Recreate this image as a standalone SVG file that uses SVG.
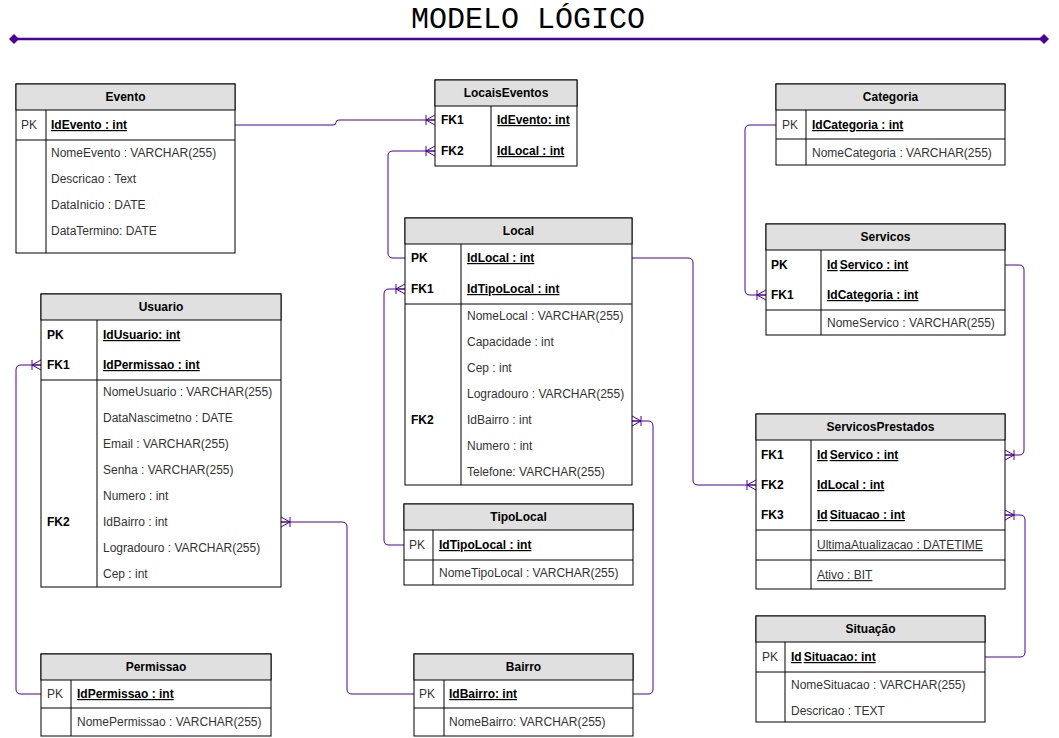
<svg xmlns="http://www.w3.org/2000/svg" width="1059" height="738" viewBox="0 0 1059 738">
<style>
.box{fill:#fff;stroke:#000;stroke-width:1}
.hd{fill:#e0e0e0;stroke:#000;stroke-width:1}
.ln{stroke:#000;stroke-width:1;fill:none}
text{font-family:"Liberation Sans",Arial,sans-serif;font-size:12px;fill:#333}
.h{font-weight:bold;fill:#000;text-anchor:middle}
.k{font-weight:bold;fill:#000}
.u{text-decoration:underline}
.c{fill:none;stroke:#4C0099;stroke-width:1}
.title{font-family:"Liberation Mono","DejaVu Sans Mono",monospace;font-size:30px;fill:#000;text-anchor:middle}
</style>
<defs>
<marker id="many" markerUnits="userSpaceOnUse" viewBox="-11 -7 12 14" refX="0" refY="0" markerWidth="12" markerHeight="14" orient="auto" overflow="visible">
<path d="M-9,-5 V5 M-9,0 L0,-5 M-9,0 L0,5 M-9,0 L0,0" fill="none" stroke="#4C0099" stroke-width="1"/>
</marker>
</defs>
<rect width="1059" height="738" fill="#fff"/>
<g id="title">
<text class="title" x="528" y="28" textLength="234" lengthAdjust="spacingAndGlyphs">MODELO LÓGICO</text>
<line x1="14" y1="39" x2="1044" y2="39" stroke="#4C0099" stroke-width="2.5"/>
<polygon points="9,39 14,34 19,39 14,44" fill="#4C0099"/>
<polygon points="1039,39 1044,34 1049,39 1044,44" fill="#4C0099"/>
</g>
<g id="connectors">
<path class="c" d="M235,125 H333 Q336,125 336,122.5 Q336,120 339,120 H435" marker-end="url(#many)"/>
<path class="c" d="M405,258 H393 Q388,258 388,253 V156 Q388,151 393,151 H435" marker-end="url(#many)"/>
<path class="c" d="M404,545 H389 Q384,545 384,540 V294 Q384,289 389,289 H405" marker-end="url(#many)"/>
<path class="c" d="M633,694 H648 Q653,694 653,689 V426 Q653,421 648,421 H632" marker-end="url(#many)"/>
<path class="c" d="M632,258 H688 Q693,258 693,263 V480 Q693,485 698,485 H756" marker-end="url(#many)"/>
<path class="c" d="M776,125 H750 Q745,125 745,130 V290 Q745,295 750,295 H766" marker-end="url(#many)"/>
<path class="c" d="M1005,265 H1019 Q1024,265 1024,270 V450 Q1024,455 1019,455 H1005" marker-end="url(#many)"/>
<path class="c" d="M985,657 H1020 Q1025,657 1025,652 V520 Q1025,515 1020,515 H1005" marker-end="url(#many)"/>
<path class="c" d="M41,694 H21 Q16,694 16,689 V370 Q16,365 21,365 H41" marker-end="url(#many)"/>
<path class="c" d="M414,694 H352 Q347,694 347,689 V527 Q347,522 342,522 H281" marker-end="url(#many)"/>
</g>
<g id="evento">
<rect class="box" x="16" y="84" width="219" height="169"/>
<rect class="hd" x="16" y="84" width="219" height="26"/>
<line class="ln" x1="16" y1="140" x2="235" y2="140"/>
<line class="ln" x1="46" y1="110" x2="46" y2="253"/>
<text class="h" x="125.5" y="101">Evento</text>
<text x="21" y="129">PK</text>
<text class="k u" x="51" y="129">IdEvento : int</text>
<text x="51" y="157">NomeEvento : VARCHAR(255)</text>
<text x="51" y="183">Descricao : Text</text>
<text x="51" y="209">DataInicio : DATE</text>
<text x="51" y="235">DataTermino: DATE</text>
</g>
<g id="locaiseventos">
<rect class="box" x="435" y="80" width="142" height="86"/>
<rect class="hd" x="435" y="80" width="142" height="26"/>
<line class="ln" x1="491" y1="106" x2="491" y2="166"/>
<text class="h" x="506" y="97">LocaisEventos</text>
<text class="k" x="441" y="124">FK1</text>
<text class="k u" x="497" y="124">IdEvento: int</text>
<text class="k" x="441" y="155">FK2</text>
<text class="k u" x="497" y="155">IdLocal : int</text>
</g>
<g id="categoria">
<rect class="box" x="776" y="84" width="229" height="81"/>
<rect class="hd" x="776" y="84" width="229" height="26"/>
<line class="ln" x1="776" y1="139" x2="1005" y2="139"/>
<line class="ln" x1="806" y1="110" x2="806" y2="165"/>
<text class="h" x="890.5" y="101">Categoria</text>
<text x="782" y="129">PK</text>
<text class="k u" x="812" y="129">IdCategoria : int</text>
<text x="812" y="157">NomeCategoria : VARCHAR(255)</text>
</g>
<g id="servicos">
<rect class="box" x="766" y="224" width="239" height="111"/>
<rect class="hd" x="766" y="224" width="239" height="26"/>
<line class="ln" x1="766" y1="310" x2="1005" y2="310"/>
<line class="ln" x1="821" y1="250" x2="821" y2="335"/>
<text class="h" x="885.5" y="241">Servicos</text>
<text class="k" x="771" y="269">PK</text>
<text class="k u" x="827" y="269">Id<tspan dx="2">Servico : int</tspan></text>
<text class="k" x="771" y="299">FK1</text>
<text class="k u" x="827" y="299">IdCategoria : int</text>
<text x="827" y="327">NomeServico : VARCHAR(255)</text>
</g>
<g id="local">
<rect class="box" x="405" y="218" width="227" height="267"/>
<rect class="hd" x="405" y="218" width="227" height="26"/>
<line class="ln" x1="405" y1="304" x2="632" y2="304"/>
<line class="ln" x1="461" y1="244" x2="461" y2="485"/>
<text class="h" x="518.5" y="235">Local</text>
<text class="k" x="411" y="262">PK</text>
<text class="k u" x="467" y="262">IdLocal : int</text>
<text class="k" x="411" y="293">FK1</text>
<text class="k u" x="467" y="293">IdTipoLocal : int</text>
<text x="467" y="320">NomeLocal : VARCHAR(255)</text>
<text x="467" y="346">Capacidade : int</text>
<text x="467" y="372">Cep : int</text>
<text x="467" y="398">Logradouro : VARCHAR(255)</text>
<text class="k" x="411" y="424">FK2</text>
<text x="467" y="424">IdBairro : int</text>
<text x="467" y="450">Numero : int</text>
<text x="467" y="476">Telefone: VARCHAR(255)</text>
</g>
<g id="usuario">
<rect class="box" x="41" y="294" width="240" height="293"/>
<rect class="hd" x="41" y="294" width="240" height="26"/>
<line class="ln" x1="41" y1="380" x2="281" y2="380"/>
<line class="ln" x1="97" y1="320" x2="97" y2="587"/>
<text class="h" x="161" y="311">Usuario</text>
<text class="k" x="47" y="339">PK</text>
<text class="k u" x="103" y="339">IdUsuario: int</text>
<text class="k" x="47" y="369">FK1</text>
<text class="k u" x="103" y="369">IdPermissao : int</text>
<text x="103" y="396">NomeUsuario : VARCHAR(255)</text>
<text x="103" y="422">DataNascimetno : DATE</text>
<text x="103" y="448">Email : VARCHAR(255)</text>
<text x="103" y="474">Senha : VARCHAR(255)</text>
<text x="103" y="500">Numero : int</text>
<text class="k" x="47" y="526">FK2</text>
<text x="103" y="526">IdBairro : int</text>
<text x="103" y="552">Logradouro : VARCHAR(255)</text>
<text x="103" y="578">Cep : int</text>
</g>
<g id="servicosprestados">
<rect class="box" x="756" y="414" width="249" height="175"/>
<rect class="hd" x="756" y="414" width="249" height="26"/>
<line class="ln" x1="756" y1="530" x2="1005" y2="530"/>
<line class="ln" x1="756" y1="560" x2="1005" y2="560"/>
<line class="ln" x1="811" y1="440" x2="811" y2="589"/>
<text class="h" x="880.5" y="431">ServicosPrestados</text>
<text class="k" x="761" y="459">FK1</text>
<text class="k u" x="817" y="459">Id<tspan dx="2">Servico : int</tspan></text>
<text class="k" x="761" y="489">FK2</text>
<text class="k u" x="817" y="489">IdLocal : int</text>
<text class="k" x="761" y="519">FK3</text>
<text class="k u" x="817" y="519">Id<tspan dx="2">Situacao : int</tspan></text>
<text class="u" x="817" y="549">UltimaAtualizacao : DATETIME</text>
<text class="u" x="817" y="579">Ativo : BIT</text>
</g>
<g id="tipolocal">
<rect class="box" x="404" y="504" width="229" height="81"/>
<rect class="hd" x="404" y="504" width="229" height="26"/>
<line class="ln" x1="404" y1="560" x2="633" y2="560"/>
<line class="ln" x1="433" y1="530" x2="433" y2="585"/>
<text class="h" x="518.5" y="521">TipoLocal</text>
<text x="409" y="549">PK</text>
<text class="k u" x="439" y="549">IdTipoLocal : int</text>
<text x="439" y="577">NomeTipoLocal : VARCHAR(255)</text>
</g>
<g id="situacao">
<rect class="box" x="756" y="616" width="229" height="106"/>
<rect class="hd" x="756" y="616" width="229" height="26"/>
<line class="ln" x1="756" y1="672" x2="985" y2="672"/>
<line class="ln" x1="785" y1="642" x2="785" y2="722"/>
<text class="h" x="870.5" y="633">Situação</text>
<text x="762" y="661">PK</text>
<text class="k u" x="791" y="661">Id<tspan dx="2">Situacao: int</tspan></text>
<text x="791" y="689">NomeSituacao : VARCHAR(255)</text>
<text x="791" y="715">Descricao : TEXT</text>
</g>
<g id="permissao">
<rect class="box" x="41" y="654" width="230" height="82"/>
<rect class="hd" x="41" y="654" width="230" height="26"/>
<line class="ln" x1="41" y1="708" x2="271" y2="708"/>
<line class="ln" x1="71" y1="680" x2="71" y2="736"/>
<text class="h" x="156" y="671">Permissao</text>
<text x="47" y="698">PK</text>
<text class="k u" x="77" y="698">IdPermissao : int</text>
<text x="77" y="726">NomePermissao : VARCHAR(255)</text>
</g>
<g id="bairro">
<rect class="box" x="414" y="654" width="219" height="82"/>
<rect class="hd" x="414" y="654" width="219" height="26"/>
<line class="ln" x1="414" y1="708" x2="633" y2="708"/>
<line class="ln" x1="444" y1="680" x2="444" y2="736"/>
<text class="h" x="523.5" y="671">Bairro</text>
<text x="419" y="698">PK</text>
<text class="k u" x="449" y="698">IdBairro: int</text>
<text x="449" y="726">NomeBairro: VARCHAR(255)</text>
</g>
</svg>
